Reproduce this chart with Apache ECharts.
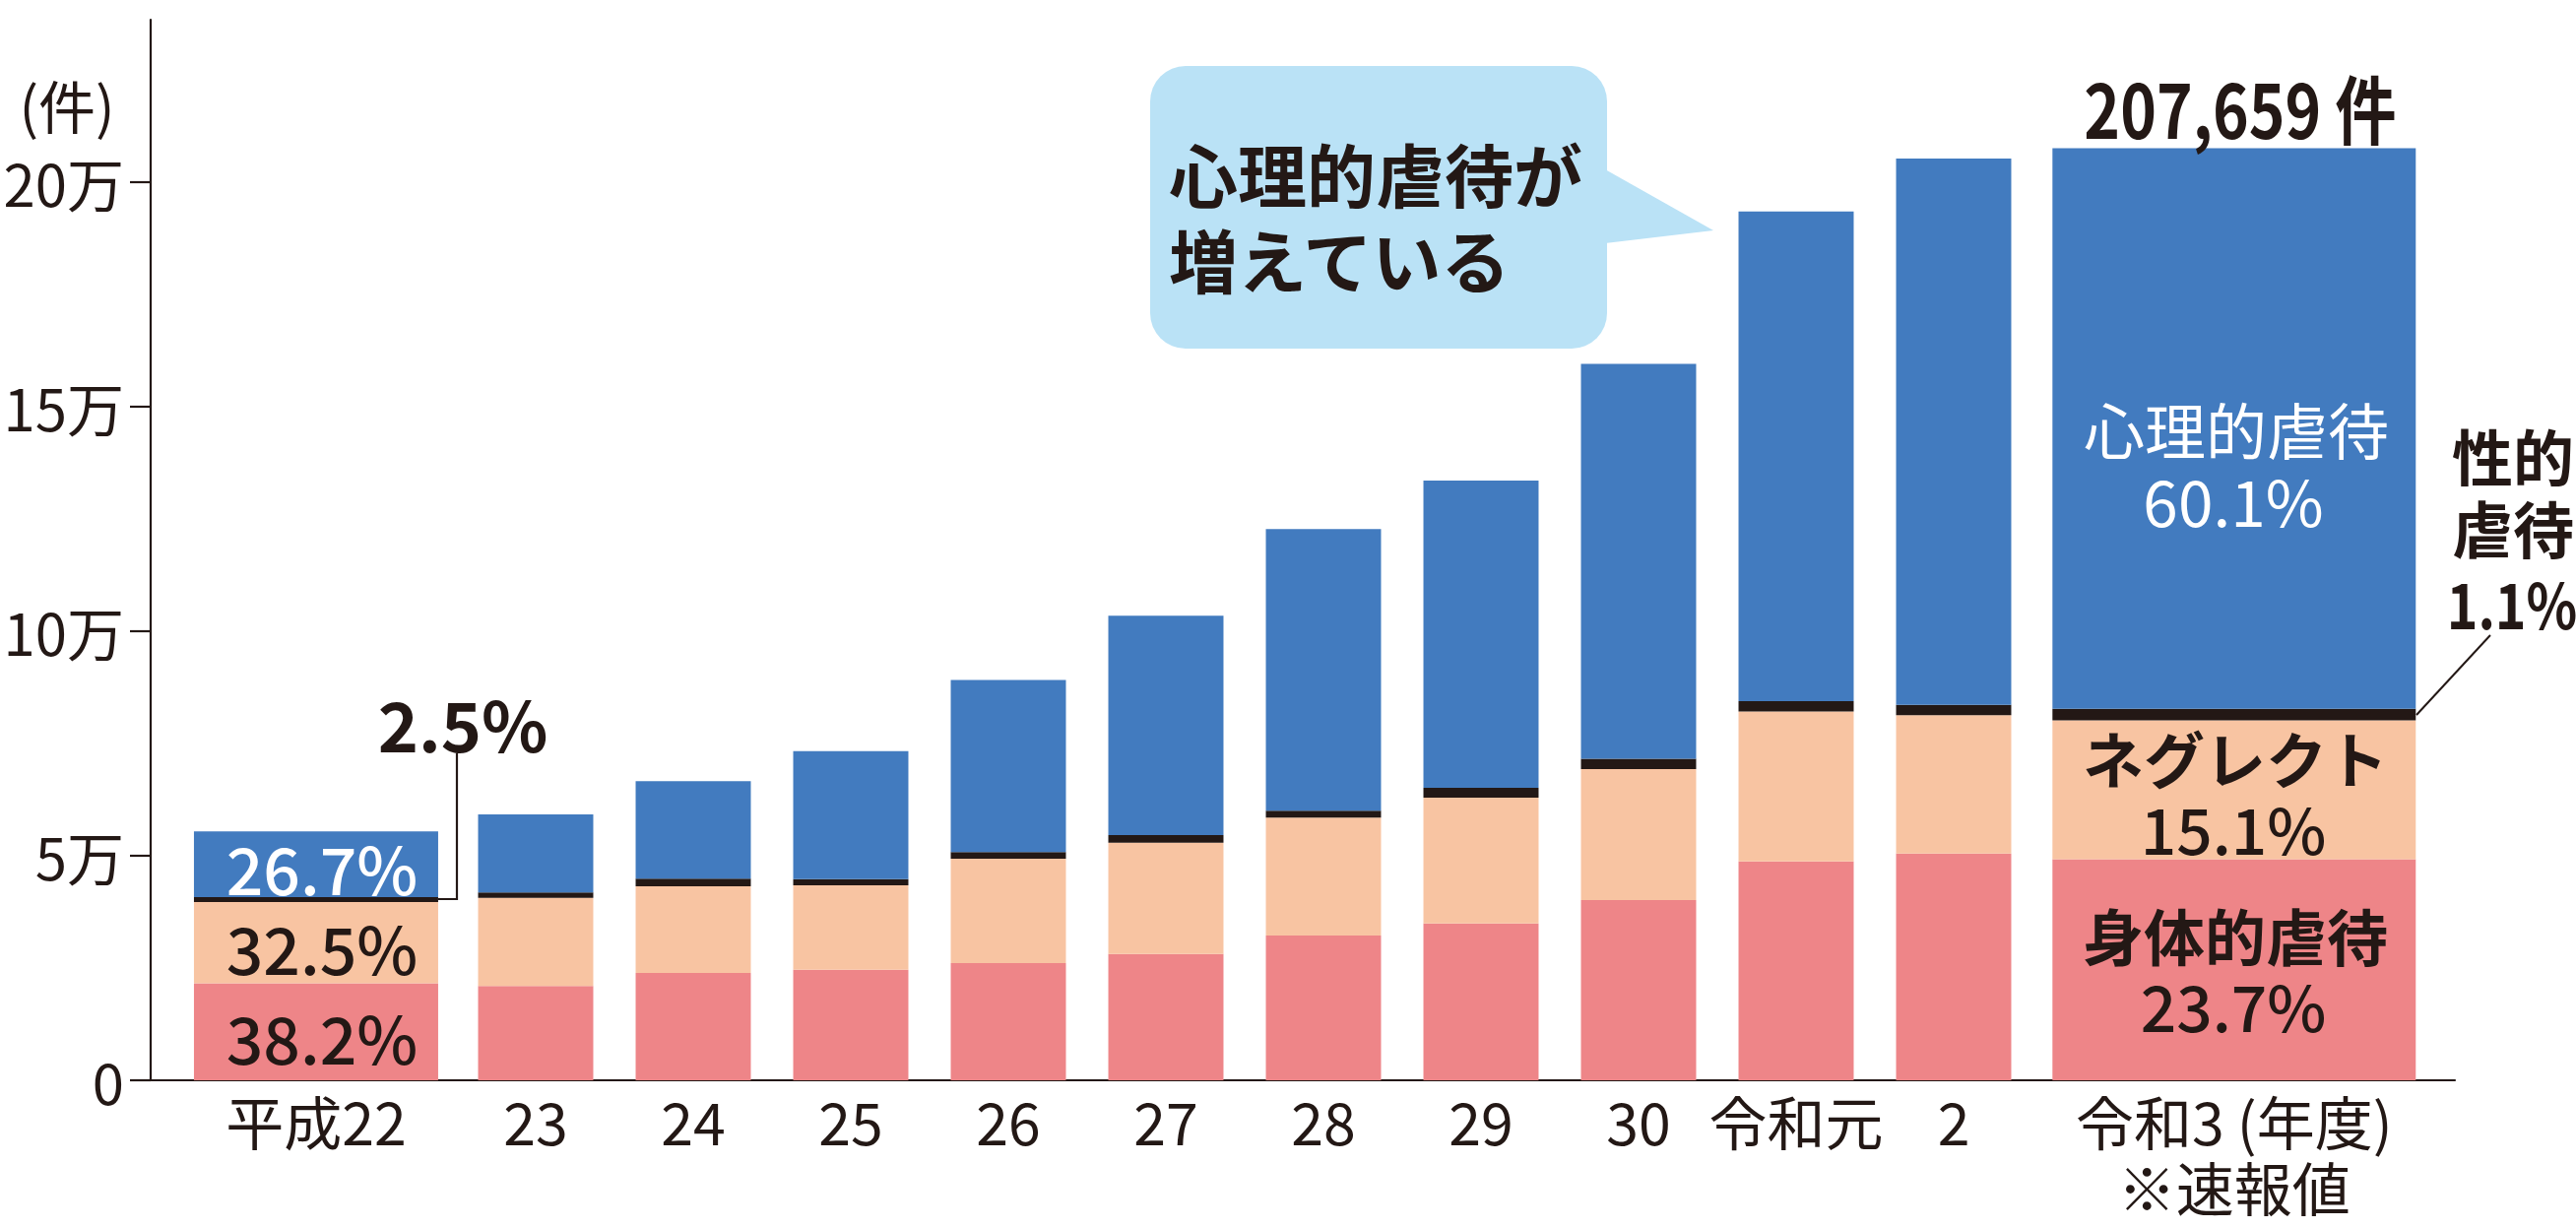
<!DOCTYPE html>
<html><head><meta charset="utf-8">
<script src="https://cdn.jsdelivr.net/npm/echarts@6/dist/echarts.min.js"></script>
<style>html,body{margin:0;padding:0;background:#fff}#chart{width:2616px;height:1247px}</style>
</head><body><div id="chart"></div>
<script>
// ---- data ----
const categories = ['平成22','23','24','25','26','27','28','29','30','令和元','2','令和3 (年度)\n※速報値'];
const physical      = [21600,21000,23900,24600,26100,28100,32200,34900,40100,48700,50500,49200];
const neglect       = [18100,19600,19300,18800,23200,24800,26300,28000,29200,33400,30800,30900];
const sexual        = [1100,1200,1700,1400,1500,1700,1500,2200,2300,2300,2300,2600];
const psychological = [14600,17400,21700,28500,38300,48800,62700,68400,87900,109000,121600,124800];
const yTickValues = [0,50000,100000,150000,200000];
const yTickLabels = ['0','5万','10万','15万','20万'];
const typeNames = ['身体的虐待','ネグレクト','性的虐待','心理的虐待'];
const firstBarPct = ['38.2%','32.5%','2.5%','26.7%'];
const lastBarPct  = ['23.7%','15.1%','1.1%','60.1%'];
const lastTotalLabel = '207,659 件';

// ---- layout (slot centres / widths in x-axis units) ----
const slotPos   = [-0.394,1,2,3,4,5,6,7,8,9,10,11.78];
const slotWidth = [1.55,0.731,0.731,0.731,0.731,0.731,0.731,0.731,0.731,0.731,0.731,2.306];

const INK = '#231815';
const COLORS = ['#EE8588','#F8C4A2',INK,'#427BBF'];
const JP = "'Noto Sans CJK JP',sans-serif";

const layers = [physical, neglect, sexual, psychological];

const series = layers.map((arr, li) => {
  const data = arr.map((v, i) => {
    let base = 0;
    for (let k = 0; k < li; k++) base += layers[k][i];
    return [slotPos[i], base, base + v, slotWidth[i]];
  });
  return {
    type: 'custom', name: typeNames[li], data,
    encode: { x: 0, y: [1, 2] },
    renderItem: (params, api) => {
      const x = api.value(0), w = api.value(3);
      const p1 = api.coord([x - w / 2, api.value(2)]);
      const p2 = api.coord([x + w / 2, api.value(1)]);
      return { type: 'rect', shape: { x: p1[0], y: p1[1], width: p2[0] - p1[0], height: p2[1] - p1[1] },
               style: { fill: COLORS[li] } };
    }
  };
});

function txt(text, x, y, size, opts) {
  opts = opts || {};
  const el = { type: 'text', x, y, z: 100, style: {
    text, fontSize: size, fontFamily: JP, fontWeight: opts.weight || 'normal',
    fill: opts.fill || INK, align: opts.align || 'center', verticalAlign: 'middle',
    lineHeight: opts.lineHeight || size } };
  if (opts.scaleX) el.scaleX = opts.scaleX;
  return el;
}

const graphics = [
  txt('(件)', 68, 106, 58),
  // callout bubble
  { type: 'rect', shape: { x: 1168, y: 67, width: 464, height: 287, r: 36 }, style: { fill: '#BAE2F6' } },
  { type: 'polygon', shape: { points: [[1630,172],[1740,234],[1630,247]] }, style: { fill: '#BAE2F6' } },
  txt('心理的虐待が', 1187, 175, 70, { align: 'left', weight: 'bold' }),
  txt('増えている', 1187, 262, 70, { align: 'left', weight: 'bold' }),
  // first bar labels
  txt(firstBarPct[3], 327, 880, 66, { fill: '#fff', weight: 500 }),
  txt(firstBarPct[1], 327, 961, 66, { weight: 500 }),
  txt(firstBarPct[0], 327, 1052, 66, { weight: 500 }),
  txt(firstBarPct[2], 470, 733, 70, { weight: 'bold' }),
  { type: 'polyline', shape: { points: [[445,913],[464,913],[464,765]] }, style: { stroke: INK, lineWidth: 2.2, fill: null } },
  // last bar labels
  txt(lastTotalLabel, 2275, 108, 76, { weight: 'bold', scaleX: 0.82 }),
  txt(typeNames[3], 2271, 435, 62, { fill: '#fff' }),
  txt(lastBarPct[3], 2268, 507, 64, { fill: '#fff' }),
  txt(typeNames[1], 2270, 769, 62, { weight: 'bold' }),
  txt(lastBarPct[1], 2268, 840, 64, { weight: 500 }),
  txt(typeNames[0], 2270, 949, 62, { weight: 'bold' }),
  txt(lastBarPct[0], 2268, 1020, 64, { weight: 500 }),
  txt('性的\n虐待', 2490, 498, 62, { align: 'left', weight: 'bold', lineHeight: 73 }),
  txt(lastBarPct[2], 2551, 611, 64, { weight: 'bold', scaleX: 0.84 }),
  { type: 'line', shape: { x1: 2454, y1: 726, x2: 2529, y2: 645 }, style: { stroke: INK, lineWidth: 2 } }
];

const chart = echarts.init(document.getElementById('chart'), null, { renderer: 'svg' });
chart.setOption({
  animation: false,
  backgroundColor: '#fff',
  grid: { left: 153, right: 123, top: 20, bottom: 150, containLabel: false, outerBoundsMode: 'none' },
  xAxis: {
    type: 'value', min: -1.44375, max: 13.18125,
    splitLine: { show: false },
    axisLine: { show: true, onZero: false, lineStyle: { color: INK, width: 2.2 } },
    axisTick: { show: false },
    axisLabel: {
      customValues: slotPos,
      formatter: v => {
        let best = 0;
        slotPos.forEach((p, i) => { if (Math.abs(p - v) < Math.abs(slotPos[best] - v)) best = i; });
        return categories[best];
      },
      margin: 7, fontSize: 59, lineHeight: 67, color: INK, fontFamily: JP
    }
  },
  yAxis: {
    type: 'value', min: 0, max: 236100,
    splitLine: { show: false },
    axisLine: { show: true, onZero: false, lineStyle: { color: INK, width: 2.2 } },
    axisTick: { show: true, inside: false, length: 21, customValues: yTickValues, lineStyle: { color: INK, width: 2.2 } },
    axisLabel: {
      customValues: yTickValues,
      formatter: v => yTickLabels[yTickValues.indexOf(v)],
      margin: 27, fontSize: 58, color: INK, fontFamily: JP
    }
  },
  series,
  graphic: graphics
});
</script></body></html>
